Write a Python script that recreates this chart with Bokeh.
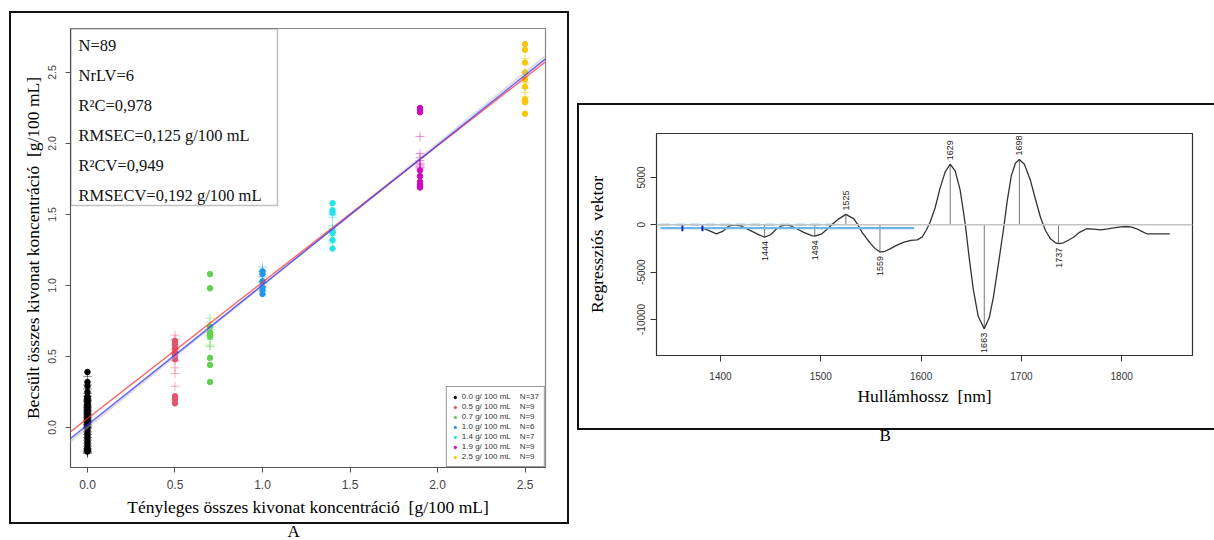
import numpy as np
from bokeh.plotting import figure
from bokeh.layouts import row
from bokeh.models import (Range1d, FixedTicker, NumeralTickFormatter, Legend, LegendItem,
                          BoxAnnotation, Label, Slope, Span, Title)
from bokeh.core.properties import value
from bokeh.embed import file_html
from bokeh.resources import INLINE

NB = "\u00a0"

# ---------------- Panel A data ----------------
conc_levels = [0.0, 0.5, 0.7, 1.0, 1.4, 1.9, 2.5]
level_names = ["0.0 g/ 100 mL", "0.5 g/ 100 mL", "0.7 g/ 100 mL", "1.0 g/ 100 mL",
               "1.4 g/ 100 mL", "1.9 g/ 100 mL", "2.5 g/ 100 mL"]
level_n = [37, 9, 9, 6, 7, 9, 9]
level_colors = ["#000000", "#DF536B", "#61D04F", "#2297E6", "#28E2E5", "#CD0BBC", "#F5C710"]

cal_00 = [0.39, 0.32, 0.29, 0.25, 0.22, 0.21, 0.20, 0.19, 0.18, 0.17, 0.16, 0.15, 0.14,
          0.13, 0.12, 0.11, 0.10, 0.09, 0.08, 0.07, 0.06, 0.05, 0.04, 0.03, 0.02, 0.01,
          0.00, -0.02, -0.04, -0.06, -0.08, -0.10, -0.12, -0.14, -0.15, -0.16, -0.17]
cal_05 = [0.61, 0.59, 0.56, 0.53, 0.51, 0.48, 0.22, 0.20, 0.17]
cal_07 = [1.08, 0.98, 0.71, 0.67, 0.65, 0.64, 0.49, 0.44, 0.32]
cal_10 = [1.10, 1.08, 1.03, 0.99, 0.97, 0.94]
cal_14 = [1.58, 1.53, 1.51, 1.38, 1.37, 1.32, 1.26]
cal_19 = [2.25, 2.24, 2.22, 1.81, 1.77, 1.73, 1.71, 1.70, 1.69]
cal_25 = [2.70, 2.66, 2.57, 2.50, 2.45, 2.40, 2.31, 2.29, 2.21]

cv_00 = [0.36, 0.30, 0.27, 0.24, 0.22, 0.20, 0.19, 0.18, 0.16, 0.15, 0.14, 0.13, 0.12,
         0.11, 0.10, 0.09, 0.08, 0.07, 0.06, 0.05, 0.04, 0.03, 0.02, 0.01, 0.00, -0.01,
         -0.03, -0.05, -0.07, -0.09, -0.11, -0.13, -0.15, -0.16, -0.17, -0.18, -0.18]
cv_05 = [0.65, 0.62, 0.58, 0.55, 0.52, 0.47, 0.42, 0.38, 0.29]
cv_07 = [0.77, 0.74, 0.71, 0.69, 0.67, 0.65, 0.62, 0.58, 0.57]
cv_10 = [1.13, 1.10, 1.06, 1.02, 0.99, 0.96]
cv_14 = [1.50, 1.48, 1.42, 1.40, 1.35, 1.32, 1.30]
cv_19 = [2.05, 1.93, 1.90, 1.88, 1.86, 1.85, 1.84, 1.83, 1.82]
cv_25 = [2.60, 2.56, 2.50, 2.47, 2.43, 2.39, 2.36, 2.33, 2.30]

cal_groups = [cal_00, cal_05, cal_07, cal_10, cal_14, cal_19, cal_25]
cv_groups = [cv_00, cv_05, cv_07, cv_10, cv_14, cv_19, cv_25]

fit_slope = [0.960, 0.985]
fit_intercept = [0.063, 0.018]
fit_colors = ["#FF3030", "#3030FF"]

stats_text = ["N=89", "NrLV=6", "R\u00b2C=0,978", "RMSEC=0,125 g/100 mL",
              "R\u00b2CV=0,949", "RMSECV=0,192 g/100 mL"]

a_xticks = [0.0, 0.5, 1.0, 1.5, 2.0, 2.5]
a_yticks = [0.0, 0.5, 1.0, 1.5, 2.0, 2.5]

# ---------------- Panel B data ----------------
wl_nm = [1382, 1388, 1396, 1402, 1408, 1414, 1420, 1427, 1433, 1439, 1444, 1450, 1456,
         1461, 1466, 1471, 1476, 1483, 1491, 1494, 1501, 1506, 1510, 1518, 1525, 1533,
         1537, 1541, 1546, 1550, 1554, 1559, 1564, 1569, 1576, 1583, 1590, 1596, 1601,
         1605, 1609, 1614, 1619, 1624, 1629, 1634, 1639, 1644, 1648, 1652, 1657, 1663,
         1668, 1672, 1677, 1682, 1686, 1690, 1694, 1698, 1703, 1709, 1714, 1719, 1724,
         1729, 1734, 1737, 1742, 1748, 1752, 1758, 1765, 1772, 1779, 1786, 1792, 1799,
         1805, 1810, 1815, 1820, 1825, 1835, 1848]
reg_vec = [-360, -600, -950, -700, -150, 0, -100, -450, -780, -1100, -1300, -1050, -420,
           -100, 0, -150, -420, -800, -1150, -1200, -950, -500, -70, 630, 1100, 630,
           0, -780, -1500, -2010, -2500, -2880, -2800, -2540, -2150, -1840, -1650, -1590, -1300,
           -600, 270, 1800, 3900, 5600, 6400, 5700, 3630, 100, -3500, -6800, -9700, -11000,
           -9800, -7700, -4200, -600, 2600, 5200, 6500, 6900, 6400, 4700, 2700, 800, -600,
           -1480, -1900, -2000, -1900, -1550, -1310, -800, -420, -450, -530, -420, -320, -220,
           -180, -250, -420, -700, -950, -960, -960]
peak_nm = [1444, 1494, 1525, 1559, 1629, 1663, 1698, 1737]
ref_line_nm = [1340, 1593]
ref_line_val = [-360, -360]
dash_line_nm = [1340, 1516]
dash_line_val = [0, 0]
marker_nm = [1362, 1382]
marker_val = [-360, -360]
b_xticks = [1400, 1500, 1600, 1700, 1800]
b_yticks = [-10000, -5000, 0, 5000]

SANS = "Liberation Sans"
SERIF = "Liberation Serif"

# ================= Figure A =================
pA = figure(width=573, height=540, x_range=Range1d(-0.097, 2.617), y_range=Range1d(-0.282, 2.81),
            output_backend="svg", toolbar_location=None,
            min_border_left=70, min_border_right=28, min_border_top=28, min_border_bottom=73)
pA.frame_align = False
pA.grid.visible = False
pA.border_fill_alpha = 0
pA.outline_line_color = "#888888"
pA.outline_line_width = 1.2

# 1:1 reference
pA.add_layout(Slope(gradient=1, y_intercept=0, line_color="#BBBBBB", line_width=2, line_alpha=0.5))
for s, b, c in zip(fit_slope, fit_intercept, fit_colors):
    pA.add_layout(Slope(gradient=s, y_intercept=b, line_color=c, line_width=1.4, line_alpha=0.75))

items = []
for xv, cal, cv, col, nm, n in zip(conc_levels, cal_groups, cv_groups, level_colors, level_names, level_n):
    pA.scatter([xv] * len(cv), cv, marker="cross", size=9, line_color=col, line_alpha=0.45, line_width=1)
    r = pA.scatter([xv] * len(cal), cal, marker="circle", size=5.5, fill_color=col, line_color=col)
    items.append(LegendItem(label=nm + NB * 4 + "N=" + str(n), renderers=[r]))

leg = Legend(items=items, location="bottom_right", margin=0, padding=5, spacing=1,
             glyph_width=6, glyph_height=8, label_height=8, label_standoff=4,
             label_text_font=SANS, label_text_font_size="8px", label_text_color="#333333",
             border_line_color="#333333", border_line_width=1, background_fill_alpha=1)
pA.add_layout(leg)

for ax in (pA.xaxis[0], pA.yaxis[0]):
    ax.major_tick_out = 5
    ax.major_tick_in = 0
    ax.minor_tick_out = 0
    ax.minor_tick_in = 0
    ax.axis_line_color = "#555555"
    ax.major_tick_line_color = "#555555"
    ax.major_label_text_font = SANS
    ax.major_label_text_color = "#444444"
    ax.axis_label_text_font = SERIF
    ax.axis_label_text_font_size = "17.5px"
    ax.axis_label_text_font_style = "normal"
    ax.axis_label_text_color = "#000000"
    ax.formatter = NumeralTickFormatter(format="0.0")
pA.xaxis.ticker = FixedTicker(ticks=a_xticks)
pA.yaxis.ticker = FixedTicker(ticks=a_yticks)
pA.xaxis.major_label_text_font_size = "12px"
pA.yaxis.major_label_text_font_size = "10.5px"
pA.yaxis.major_label_orientation = "vertical"
pA.xaxis.major_label_standoff = 7
pA.yaxis.major_label_standoff = 9
pA.xaxis.axis_label = "Tényleges összes kivonat koncentráció" + NB + NB + "[g/100 mL]"
pA.yaxis.axis_label = "Becsült összes kivonat koncentráció" + NB + NB + "[g/100 mL]"
pA.xaxis.axis_label_standoff = 5
pA.yaxis.axis_label_standoff = 3

# statistics box
pA.add_layout(BoxAnnotation(left=70.5, right=277, top=28.5, bottom=205,
                            left_units="canvas", right_units="canvas",
                            top_units="canvas", bottom_units="canvas",
                            fill_color="white", fill_alpha=1, line_color="#333333", line_width=1.5))
for i, t in enumerate(stats_text):
    pA.add_layout(Label(x=78, y=45 + 30 * i, x_units="canvas", y_units="canvas", text=t,
                        text_font=SERIF, text_font_size="16.5px", text_color="#111111",
                        text_baseline="middle", text_align="left"))

pA.add_layout(Title(text="A", align="left", offset=217, standoff=0,
                    text_font=SERIF, text_font_size="17px", text_font_style="normal",
                    text_color="#000000"), "below")

# ================= Figure B =================
pB = figure(width=641, height=540, x_range=Range1d(1336.2, 1870.6), y_range=Range1d(-13816, 9651),
            output_backend="svg", toolbar_location=None,
            min_border_left=83, min_border_right=22, min_border_top=133, min_border_bottom=185)
pB.frame_align = False
pB.grid.visible = False
pB.border_fill_alpha = 0
pB.outline_line_color = "#333333"
pB.outline_line_width = 1.2

pB.add_layout(Span(location=0, dimension="width", line_color="#C4C4C4", line_width=1.5))
pB.line(dash_line_nm, dash_line_val, line_color="#A9D0EC", line_width=2.5, line_dash="10 5")

peak_val = np.interp(peak_nm, wl_nm, reg_vec)
pB.segment(x0=peak_nm, y0=[0] * len(peak_nm), x1=peak_nm, y1=peak_val, line_color="#777777", line_width=1)
pB.line(wl_nm, reg_vec, line_color="#333333", line_width=1.3)
pB.line(ref_line_nm, ref_line_val, line_color="#6DB6E8", line_width=2.2)
pB.scatter(marker_nm, marker_val, marker="dash", angle=np.pi / 2, size=6, line_color="#1a1aCC", line_width=2)

pos = [i for i, v in enumerate(peak_val) if v > 0]
neg = [i for i, v in enumerate(peak_val) if v <= 0]
pB.text(x=[peak_nm[i] for i in pos], y=[peak_val[i] for i in pos], text=[str(peak_nm[i]) for i in pos],
        angle=np.pi / 2, text_align="left", text_baseline="middle", y_offset=-4,
        text_font=value(SANS), text_font_size="9px", text_color="#222222")
pB.text(x=[peak_nm[i] for i in neg], y=[peak_val[i] for i in neg], text=[str(peak_nm[i]) for i in neg],
        angle=np.pi / 2, text_align="right", text_baseline="middle", y_offset=4,
        text_font=value(SANS), text_font_size="9px", text_color="#222222")

for ax in (pB.xaxis[0], pB.yaxis[0]):
    ax.major_tick_out = 6
    ax.major_tick_in = 0
    ax.minor_tick_out = 0
    ax.minor_tick_in = 0
    ax.axis_line_color = "#333333"
    ax.major_tick_line_color = "#333333"
    ax.major_label_text_font = SANS
    ax.major_label_text_color = "#333333"
    ax.major_label_text_font_size = "10px"
    ax.axis_label_text_font = SERIF
    ax.axis_label_text_font_size = "17.5px"
    ax.axis_label_text_font_style = "normal"
    ax.axis_label_text_color = "#000000"
    ax.formatter = NumeralTickFormatter(format="0")
pB.xaxis.ticker = FixedTicker(ticks=b_xticks)
pB.yaxis.ticker = FixedTicker(ticks=b_yticks)
pB.yaxis.major_label_orientation = "vertical"
pB.xaxis.major_label_standoff = 10
pB.yaxis.major_label_standoff = 5
pB.xaxis.axis_label = "Hullámhossz" + NB + NB + "[nm]"
pB.yaxis.axis_label = "Regressziós" + NB + NB + "vektor"
pB.xaxis.axis_label_standoff = 3
pB.yaxis.axis_label_standoff = 28

pB.add_layout(Title(text="B", align="left", offset=223, standoff=30,
                    text_font=SERIF, text_font_size="17px", text_font_style="normal",
                    text_color="#000000"), "below")

layout = row(pA, pB, spacing=0)
# outer panel frames drawn behind the (transparent) figure borders
frame_lines = [
    ("9px", "11px", "560px", "2px"),    # A top
    ("9px", "522px", "560px", "2px"),   # A bottom
    ("9px", "11px", "2px", "513px"),    # A left
    ("567px", "11px", "2px", "513px"),  # A right
    ("577px", "103px", "640px", "2px"),  # B top
    ("577px", "428px", "640px", "2px"),  # B bottom
    ("577px", "103px", "2px", "327px"),  # B left
]
layout.styles = {
    "background-image": ", ".join(["linear-gradient(#111, #111)"] * len(frame_lines)),
    "background-position": ", ".join(f"{x} {y}" for x, y, w, h in frame_lines),
    "background-size": ", ".join(f"{w} {h}" for x, y, w, h in frame_lines),
    "background-repeat": "no-repeat",
}
open("out.html", "w").write(file_html(layout, INLINE))
